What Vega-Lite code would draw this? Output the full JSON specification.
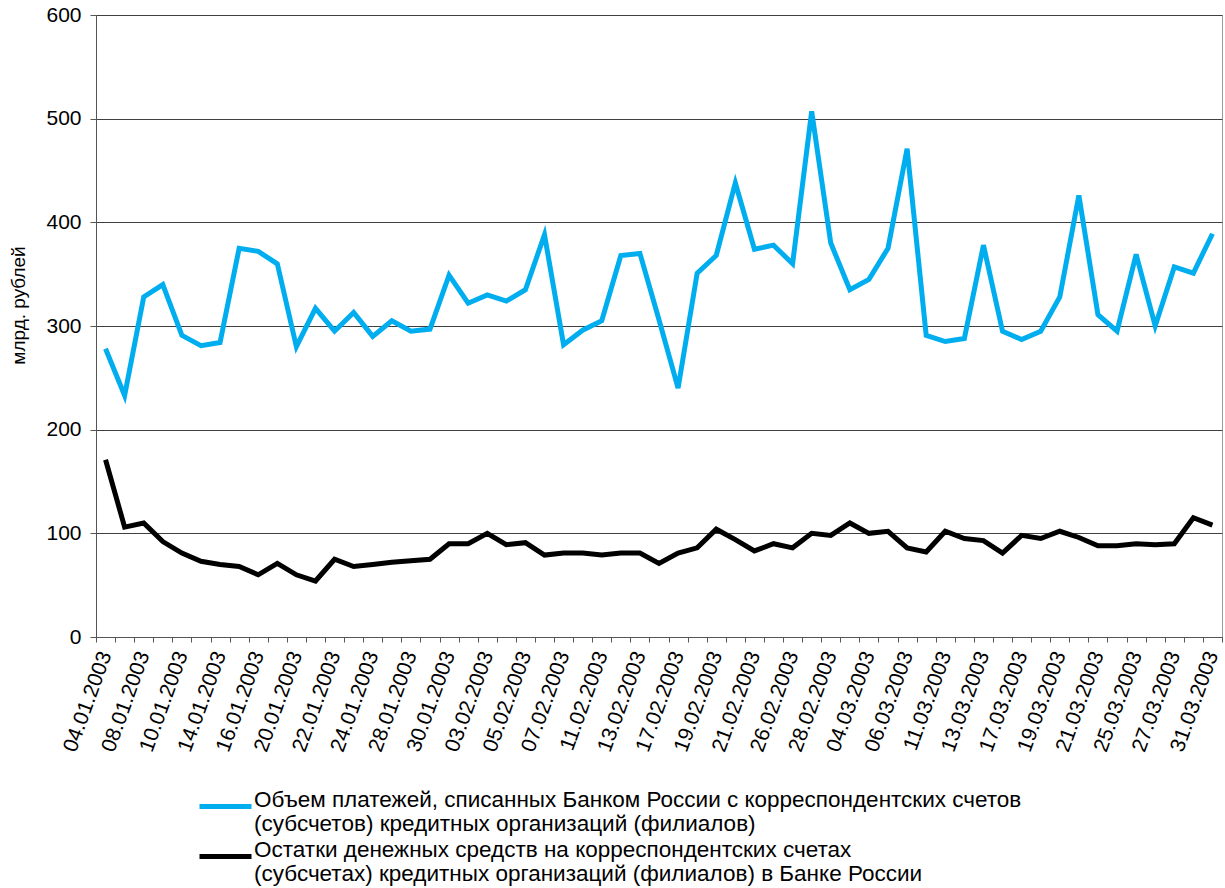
{
  "$schema": "https://vega.github.io/schema/vega-lite/v6.json",
  "width": 1126,
  "height": 622,
  "autosize": {"type": "none"},
  "padding": {"left": 96, "top": 15, "right": 3, "bottom": 251},
  "background": "white",
  "config": {
    "font": "Liberation Sans",
    "view": {"stroke": "#9a9a9a", "strokeWidth": 1},
    "legend": {
      "title": null,
      "orient": "none",
      "direction": "vertical",
      "symbolType": "stroke",
      "symbolSize": 2704,
      "symbolStrokeWidth": 5,
      "labelFontSize": 22.5,
      "labelColor": "#000000",
      "labelLimit": 0,
      "labelOffset": 0,
      "labelBaseline": "alphabetic"
    }
  },
  "data": {
    "values": [
      {"date": "04.01.2003", "pay": 278, "bal": 171},
      {"date": "06.01.2003", "pay": 233, "bal": 106},
      {"date": "08.01.2003", "pay": 328, "bal": 110},
      {"date": "09.01.2003", "pay": 340, "bal": 92},
      {"date": "10.01.2003", "pay": 291, "bal": 81},
      {"date": "13.01.2003", "pay": 281, "bal": 73},
      {"date": "14.01.2003", "pay": 284, "bal": 70},
      {"date": "15.01.2003", "pay": 375, "bal": 68},
      {"date": "16.01.2003", "pay": 372, "bal": 60},
      {"date": "17.01.2003", "pay": 360, "bal": 71},
      {"date": "20.01.2003", "pay": 280, "bal": 60},
      {"date": "21.01.2003", "pay": 317, "bal": 54},
      {"date": "22.01.2003", "pay": 295, "bal": 75},
      {"date": "23.01.2003", "pay": 313, "bal": 68},
      {"date": "24.01.2003", "pay": 290, "bal": 70},
      {"date": "27.01.2003", "pay": 305, "bal": 72},
      {"date": "28.01.2003", "pay": 295, "bal": 73.5},
      {"date": "29.01.2003", "pay": 297, "bal": 75},
      {"date": "30.01.2003", "pay": 349, "bal": 90},
      {"date": "31.01.2003", "pay": 322, "bal": 90},
      {"date": "03.02.2003", "pay": 330, "bal": 100},
      {"date": "04.02.2003", "pay": 324, "bal": 89},
      {"date": "05.02.2003", "pay": 335, "bal": 91},
      {"date": "06.02.2003", "pay": 388, "bal": 79},
      {"date": "07.02.2003", "pay": 282, "bal": 81},
      {"date": "10.02.2003", "pay": 296, "bal": 81},
      {"date": "11.02.2003", "pay": 305, "bal": 79},
      {"date": "12.02.2003", "pay": 368, "bal": 81},
      {"date": "13.02.2003", "pay": 370, "bal": 81},
      {"date": "14.02.2003", "pay": 306, "bal": 71},
      {"date": "17.02.2003", "pay": 240, "bal": 81},
      {"date": "18.02.2003", "pay": 351, "bal": 86},
      {"date": "19.02.2003", "pay": 368, "bal": 104},
      {"date": "20.02.2003", "pay": 438, "bal": 94},
      {"date": "21.02.2003", "pay": 374, "bal": 83},
      {"date": "25.02.2003", "pay": 378, "bal": 90},
      {"date": "26.02.2003", "pay": 360, "bal": 86},
      {"date": "27.02.2003", "pay": 507, "bal": 100},
      {"date": "28.02.2003", "pay": 380, "bal": 98},
      {"date": "03.03.2003", "pay": 335, "bal": 110},
      {"date": "04.03.2003", "pay": 345, "bal": 100},
      {"date": "05.03.2003", "pay": 375, "bal": 102},
      {"date": "06.03.2003", "pay": 471, "bal": 86},
      {"date": "07.03.2003", "pay": 291, "bal": 82},
      {"date": "11.03.2003", "pay": 285, "bal": 102},
      {"date": "12.03.2003", "pay": 288, "bal": 95},
      {"date": "13.03.2003", "pay": 378, "bal": 93},
      {"date": "14.03.2003", "pay": 295, "bal": 81},
      {"date": "17.03.2003", "pay": 287, "bal": 98},
      {"date": "18.03.2003", "pay": 295, "bal": 95},
      {"date": "19.03.2003", "pay": 328, "bal": 102},
      {"date": "20.03.2003", "pay": 426, "bal": 96},
      {"date": "21.03.2003", "pay": 311, "bal": 88},
      {"date": "24.03.2003", "pay": 295, "bal": 88},
      {"date": "25.03.2003", "pay": 369, "bal": 90},
      {"date": "26.03.2003", "pay": 300, "bal": 89},
      {"date": "27.03.2003", "pay": 357, "bal": 90},
      {"date": "28.03.2003", "pay": 351, "bal": 115},
      {"date": "31.03.2003", "pay": 389, "bal": 108}
    ]
  },
  "transform": [{"fold": ["pay", "bal"], "as": ["series", "value"]}],
  "encoding": {
    "x": {
      "field": "date",
      "type": "ordinal",
      "sort": null,
      "scale": {"type": "band", "paddingInner": 0, "paddingOuter": 0},
      "axis": {
        "title": null,
        "tickBand": "extent",
        "tickSize": 5,
        "tickColor": "#555555",
        "domainColor": "#555555",
        "labelAngle": -70,
        "labelAlign": "right",
        "labelBaseline": "middle",
        "labelFontSize": 21,
        "labelColor": "#000000",
        "labelPadding": 10,
        "labelOverlap": false,
        "labelExpr": "indexof(domain('x'), datum.value) % 2 == 0 ? datum.label : ''"
      }
    },
    "y": {
      "field": "value",
      "type": "quantitative",
      "scale": {"domain": [0, 600], "nice": false},
      "axis": {
        "values": [0, 100, 200, 300, 400, 500, 600],
        "title": "млрд. рублей",
        "titleFontSize": 19,
        "titleFontWeight": "normal",
        "titleColor": "#000000",
        "titleX": -72,
        "titleY": 290,
        "titleBaseline": "alphabetic",
        "titleAngle": -90,
        "grid": true,
        "gridColor": "#404040",
        "gridWidth": 1,
        "tickSize": 6,
        "tickColor": "#555555",
        "domainColor": "#555555",
        "labelFontSize": 21,
        "labelColor": "#000000",
        "labelPadding": 9
      }
    }
  },
  "layer": [
    {
      "transform": [{"filter": "datum.series == 'pay'"}],
      "mark": {"type": "line", "strokeWidth": 5, "strokeJoin": "miter"},
      "encoding": {
        "color": {
          "field": "series",
          "type": "nominal",
          "scale": {"domain": ["pay"], "range": ["#00AEEF"]},
          "legend": {
            "legendX": 101,
            "legendY": 763,
            "labelExpr": "['Объем платежей, списанных Банком России с корреспондентских счетов', '\u00a0(субсчетов) кредитных организаций (филиалов)']"
          }
        }
      }
    },
    {
      "transform": [{"filter": "datum.series == 'bal'"}],
      "mark": {"type": "line", "strokeWidth": 5, "strokeJoin": "miter"},
      "encoding": {
        "color": {
          "field": "series",
          "type": "nominal",
          "scale": {"domain": ["bal"], "range": ["#000000"]},
          "legend": {
            "legendX": 101,
            "legendY": 813,
            "labelExpr": "['Остатки денежных средств на корреспондентских счетах', '(субсчетах) кредитных организаций (филиалов) в Банке России']"
          }
        }
      }
    }
  ],
  "resolve": {"scale": {"color": "independent"}, "legend": {"color": "independent"}}
}
